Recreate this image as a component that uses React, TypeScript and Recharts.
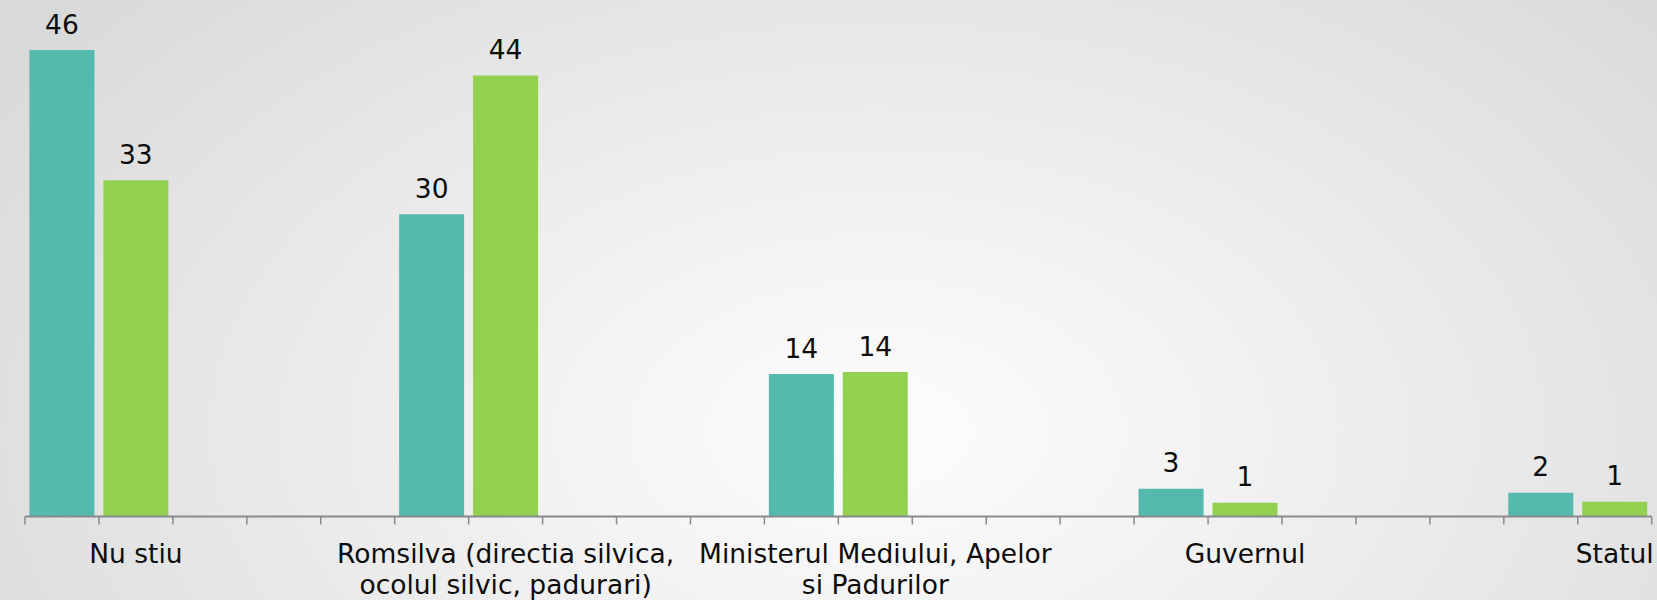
import { BarChart, Bar, XAxis, YAxis, Cell, LabelList } from 'recharts';

const categories = [
  'Nu stiu',
  'Romsilva (directia silvica,\nocolul silvic, padurari)',
  'Ministerul Mediului, Apelor\nsi Padurilor',
  'Guvernul',
  'Statul',
];
const tealValues = [46, 29.8, 14.05, 2.73, 2.34];
const greenValues = [33.15, 43.5, 14.25, 1.35, 1.45];

const TEAL = '#55B9AD';
const GREEN = '#92D050';
const EMPTY_SLOTS = 3;
const FONT = '"DejaVu Sans", Verdana, sans-serif';

type Slot = { id: string; value: number | null; fill: string; label: string };

// every bar gets its own slot on the axis, with empty slots between the groups
const slots: Slot[] = [];
categories.forEach((cat, i) => {
  slots.push({ id: `t${i}`, value: tealValues[i], fill: TEAL, label: '' });
  slots.push({ id: `g${i}`, value: greenValues[i], fill: GREEN, label: cat });
  if (i < categories.length - 1) {
    for (let k = 0; k < EMPTY_SLOTS; k++) {
      slots.push({ id: `e${i}-${k}`, value: null, fill: 'none', label: '' });
    }
  }
});

function SlotTick(props: any) {
  const { x, y, payload, width, visibleTicksCount } = props;
  const index = props.index ?? payload.index;
  const half = payload.offset || width / visibleTicksCount / 2;
  const slot = slots[index];
  const lines = slot && slot.label ? slot.label.split('\n') : [];
  const isLast = index === slots.length - 1;
  return (
    <g>
      <line x1={x - half} x2={x - half} y1={y} y2={y + 8} stroke="#8a8a8a" strokeWidth={1.5} />
      {isLast && (
        <line x1={x + half} x2={x + half} y1={y} y2={y + 8} stroke="#8a8a8a" strokeWidth={1.5} />
      )}
      {lines.length > 0 && (
        <text x={x} y={y + 46} textAnchor="middle" fontSize={26.5} fontFamily={FONT} fill="#0d0d0d">
          {lines.map((line, i) => (
            <tspan key={i} x={x} dy={i === 0 ? 0 : 31}>
              {line}
            </tspan>
          ))}
        </text>
      )}
    </g>
  );
}

export default function App() {
  return (
    <div
      style={{
        position: 'absolute',
        top: 0,
        left: 0,
        width: 1657,
        height: 600,
        background:
          'radial-gradient(ellipse 65% 110% at 53% 72%, #fdfdfd 0%, #f3f3f3 30%, #d9d9d9 100%)',
      }}
    >
      <BarChart
        width={1657}
        height={600}
        data={slots}
        margin={{ top: 9.5, right: 5.3, bottom: 23.5, left: 25 }}
        barCategoryGap="6%"
      >
        <XAxis
          dataKey="id"
          type="category"
          height={60}
          interval={0}
          tickLine={false}
          tickSize={0}
          tickMargin={0}
          axisLine={{ stroke: '#8a8a8a', strokeWidth: 2 }}
          tick={<SlotTick />}
        />
        <YAxis hide domain={[0, 50]} />
        <Bar dataKey="value" isAnimationActive={false}>
          {slots.map((s) => (
            <Cell key={s.id} fill={s.fill} />
          ))}
          <LabelList
            dataKey="value"
            position="top"
            offset={16.5}
            formatter={(v: any) => (v == null ? '' : Math.round(Number(v)))}
            fontSize={26.5}
            fontFamily={FONT}
            fill="#0d0d0d"
          />
        </Bar>
      </BarChart>
    </div>
  );
}
